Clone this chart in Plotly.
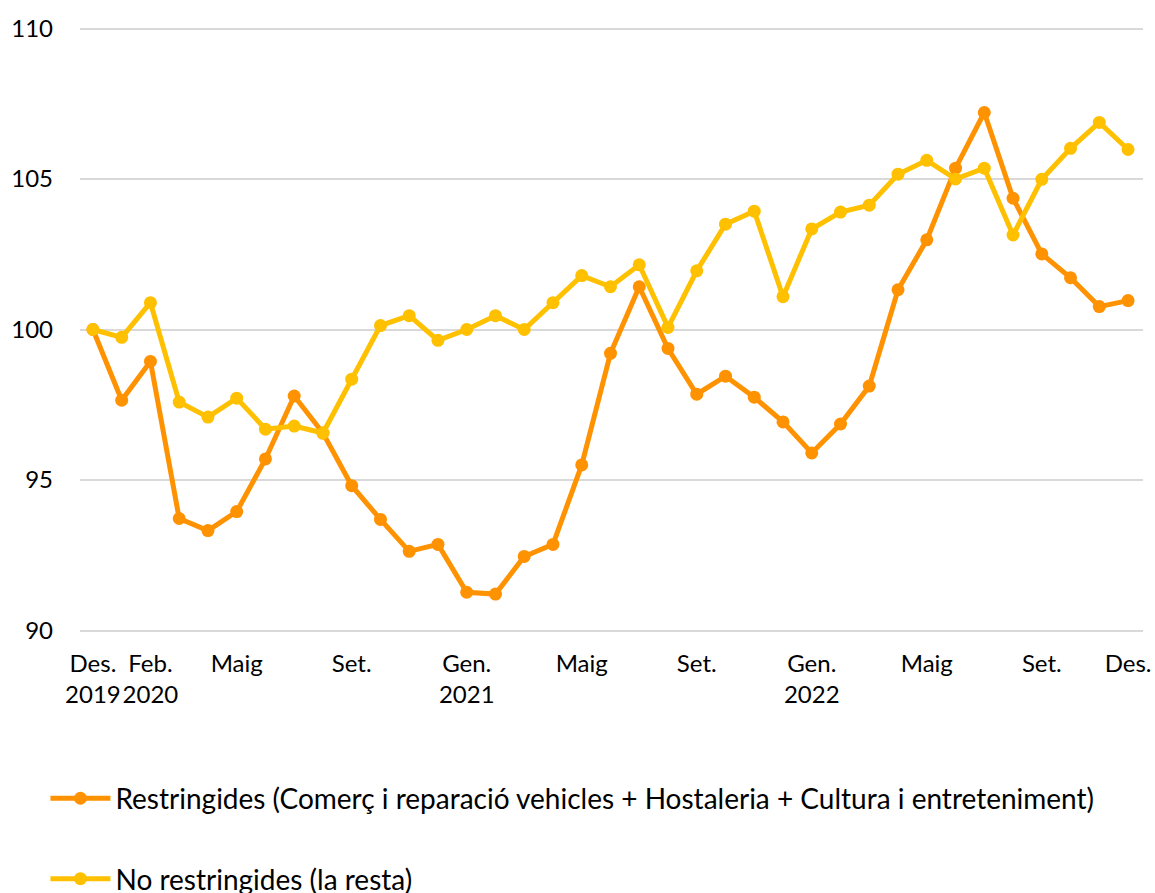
import plotly.graph_objects as go

months = ["Des. 2019", "Gen. 2020", "Feb. 2020", "Mar. 2020", "Abr. 2020", "Maig 2020", "Jun. 2020",
          "Jul. 2020", "Ago. 2020", "Set. 2020", "Oct. 2020", "Nov. 2020", "Des. 2020",
          "Gen. 2021", "Feb. 2021", "Mar. 2021", "Abr. 2021", "Maig 2021", "Jun. 2021",
          "Jul. 2021", "Ago. 2021", "Set. 2021", "Oct. 2021", "Nov. 2021", "Des. 2021",
          "Gen. 2022", "Feb. 2022", "Mar. 2022", "Abr. 2022", "Maig 2022", "Jun. 2022",
          "Jul. 2022", "Ago. 2022", "Set. 2022", "Oct. 2022", "Nov. 2022", "Des. 2022"]

restringides = [100.0, 97.65, 98.94, 93.72, 93.32, 93.95, 95.70, 97.79, 96.56, 94.81, 93.69, 92.63,
                92.86, 91.27, 91.21, 92.46, 92.86, 95.50, 99.21, 101.42, 99.37, 97.85, 98.45,
                97.75, 96.93, 95.90, 96.86, 98.12, 101.32, 102.98, 105.36, 107.21, 104.36,
                102.51, 101.72, 100.76, 100.96]

no_restringides = [100.0, 99.74, 100.89, 97.59, 97.09, 97.72, 96.69, 96.79, 96.56, 98.35, 100.13,
                   100.46, 99.64, 100.0, 100.46, 100.0, 100.89, 101.79, 101.42, 102.15, 100.07,
                   101.95, 103.50, 103.93, 101.09, 103.34, 103.90, 104.13, 105.16, 105.62, 105.0,
                   105.36, 103.14, 104.99, 106.02, 106.88, 105.98]

tick_idx = [0, 2, 5, 9, 13, 17, 21, 25, 29, 33, 36]
tick_text = ["Des.<br>2019", "Feb.<br>2020", "Maig", "Set.", "Gen.<br>2021", "Maig", "Set.",
             "Gen.<br>2022", "Maig", "Set.", "Des."]

y_ticks = [90, 95, 100, 105, 110]

name_r = "Restringides (Comerç i reparació vehicles + Hostaleria + Cultura i entreteniment)"
name_n = "No restringides (la resta)"

ORANGE = "#FF9200"
YELLOW = "#FFC000"

x = list(range(len(months)))

fig = go.Figure()
fig.add_trace(go.Scatter(x=x, y=restringides, name=name_r, mode="lines+markers",
                         line=dict(color=ORANGE, width=5), marker=dict(color=ORANGE, size=13),
                         legendgroup="r", text=months))
fig.add_trace(go.Scatter(x=x, y=no_restringides, name=name_n, mode="lines+markers",
                         line=dict(color=YELLOW, width=5), marker=dict(color=YELLOW, size=13),
                         legendgroup="n", text=months))

FONT = "Lato, 'Open Sans', sans-serif"

fig.update_layout(
    width=1155, height=893,
    margin=dict(l=80, r=12, t=27, b=261, autoexpand=False),
    paper_bgcolor="white", plot_bgcolor="white",
    font=dict(family=FONT, size=24, color="#000000"),
    showlegend=True,
    legend=dict(orientation="v", x=-0.0325, xanchor="left", y=-0.234, yanchor="top",
                tracegroupgap=41, itemwidth=60, font=dict(size=28, family=FONT)),
    xaxis=dict(range=[-0.45, 36.52], tickmode="array", tickvals=tick_idx, ticktext=tick_text,
               tickangle=0, showgrid=False, zeroline=False, showline=False, ticks="",
               ticklabelstandoff=15, tickfont=dict(size=24)),
    yaxis=dict(range=[89.95, 110.05], tickmode="array", tickvals=y_ticks,
               ticktext=[str(v) for v in y_ticks],
               showgrid=True, gridcolor="#D9D9D9", gridwidth=1.5, zeroline=False, showline=False,
               ticks="", ticklabelstandoff=26, tickfont=dict(size=24)),
)

fig.write_html("out.html", config={"displayModeBar": False},
               post_script="document.body.style.margin='0';document.body.style.overflow='hidden';")
